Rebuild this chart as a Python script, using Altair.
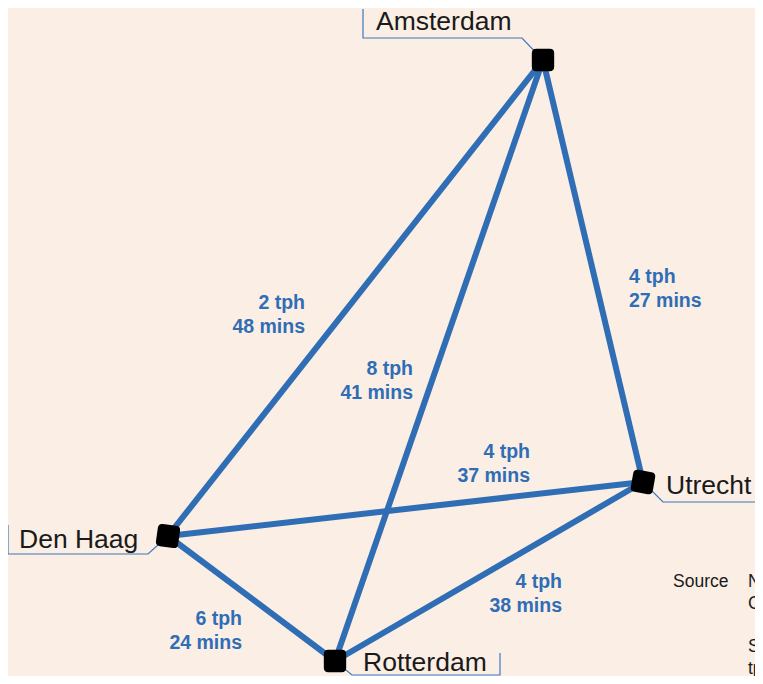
import altair as alt
import pandas as pd

# Stations (positions on the schematic, in picture units)
stations = ["Amsterdam", "Utrecht", "Den Haag", "Rotterdam"]
station_x = [543, 643, 168, 335]
station_y = [60, 482, 536, 661]
station_angle = [0, 10, 8, 0]

# Station name labels
name_x = [376, 666, 19, 363]
name_y = [22, 486, 540, 663]

# Connections
edge_from = ["Den Haag", "Amsterdam", "Amsterdam", "Den Haag", "Rotterdam", "Den Haag"]
edge_to = ["Amsterdam", "Rotterdam", "Utrecht", "Utrecht", "Utrecht", "Rotterdam"]
edge_tph = ["2 tph", "8 tph", "4 tph", "4 tph", "4 tph", "6 tph"]
edge_mins = ["48 mins", "41 mins", "27 mins", "37 mins", "38 mins", "24 mins"]
label_x = [305, 413, 629, 530, 562, 242]
label_y = [303, 369, 277, 452, 582, 619]
label_align = ["right", "right", "left", "right", "right", "right"]

# Leader lines from each station to its name box
leader_station = ["Amsterdam"] * 4 + ["Utrecht"] * 3 + ["Den Haag"] * 4 + ["Rotterdam"] * 4
leader_x = [363, 363, 522, 543, 643, 663, 770, 8, 8, 148, 168, 335, 352, 500, 500]
leader_y = [9, 38, 38, 60, 482, 502, 502, 525, 554, 554, 536, 661, 675, 675, 653]

source_lines = ["NS Reisplanner", "Compiled from timetable", "", "Slowest services excluded;", "tph = trains per hour"]

BG = "#FBEEE5"
BLUE = "#2F6DB5"

pos = dict(zip(stations, zip(station_x, station_y)))
edges = pd.DataFrame({
    "x": [pos[a][0] for a in edge_from],
    "y": [pos[a][1] for a in edge_from],
    "x2": [pos[b][0] for b in edge_to],
    "y2": [pos[b][1] for b in edge_to],
})
nodes = pd.DataFrame({"name": stations, "x": station_x, "y": station_y, "angle": station_angle})
names = pd.DataFrame({"name": stations, "x": name_x, "y": name_y})
labels = pd.DataFrame({"tph": edge_tph, "mins": edge_mins, "x": label_x, "y": label_y, "align": label_align})
leaders = pd.DataFrame({"station": leader_station, "x": leader_x, "y": leader_y,
                        "order": list(range(len(leader_x)))})
source = pd.DataFrame({"label": ["Source"], "x": [673], "y": [582]})
source_text = pd.DataFrame({"t": source_lines, "x": [748] * 5, "y": [582, 604, 626, 647, 669]})

W, H = 747, 668
xs = alt.Scale(domain=[8, 8 + W], range=[0, W])
ys = alt.Scale(domain=[8, 8 + H], range=[0, H])
X = lambda f="x": alt.X(f, type="quantitative", scale=xs, axis=None)
Y = lambda f="y": alt.Y(f, type="quantitative", scale=ys, axis=None)

edge_layer = alt.Chart(edges).mark_rule(color=BLUE, strokeWidth=6, strokeCap="butt").encode(
    x=X(), y=Y(), x2="x2:Q", y2="y2:Q")

leader_layer = alt.Chart(leaders).mark_line(color="#3C78BE", strokeWidth=1.2).encode(
    x=X(), y=Y(), detail="station:N", order="order:Q")

shape = ("M-0.6,-1 L0.6,-1 Q1,-1 1,-0.6 L1,0.6 Q1,1 0.6,1 L-0.6,1 Q-1,1 -1,0.6 "
         "L-1,-0.6 Q-1,-1 -0.6,-1 Z")
node_layer = alt.Chart(nodes).mark_point(shape=shape, filled=True, color="black", opacity=1,
                                         size=500).encode(
    x=X(), y=Y(), angle=alt.Angle("angle:Q", scale=None))

name_layer = alt.Chart(names).mark_text(align="left", baseline="middle", fontSize=26.5,
                                        font="Liberation Sans", color="#1A1A1A").encode(
    x=X(), y=Y(), text="name:N")

def label_layers(al):
    d = labels[labels["align"] == al]
    base = alt.Chart(d).encode(x=X(), y=Y())
    t1 = base.mark_text(align=al, baseline="middle", fontSize=19.5, fontWeight="bold",
                        font="Liberation Sans", color=BLUE).encode(text="tph:N")
    t2 = base.mark_text(align=al, baseline="middle", fontSize=19.5, fontWeight="bold",
                        font="Liberation Sans", color=BLUE, dy=24).encode(text="mins:N")
    return [t1, t2]

src1 = alt.Chart(source).mark_text(align="left", baseline="middle", fontSize=17.5,
                                   font="Liberation Sans", color="#1A1A1A").encode(
    x=X(), y=Y(), text="label:N")
src2 = alt.Chart(source_text).mark_text(align="left", baseline="middle", fontSize=17.5,
                                        font="Liberation Sans", color="#1A1A1A").encode(
    x=X(), y=Y(), text="t:N")

chart = alt.layer(
    leader_layer, edge_layer, node_layer, name_layer,
    *label_layers("right"), *label_layers("left"), src1, src2
).properties(
    width=W, height=H, background=BG, padding=0, autosize=alt.AutoSizeParams(type="none")
).configure_view(stroke=None)

chart.save("out.html", embed_options={"renderer": "svg", "actions": False})
